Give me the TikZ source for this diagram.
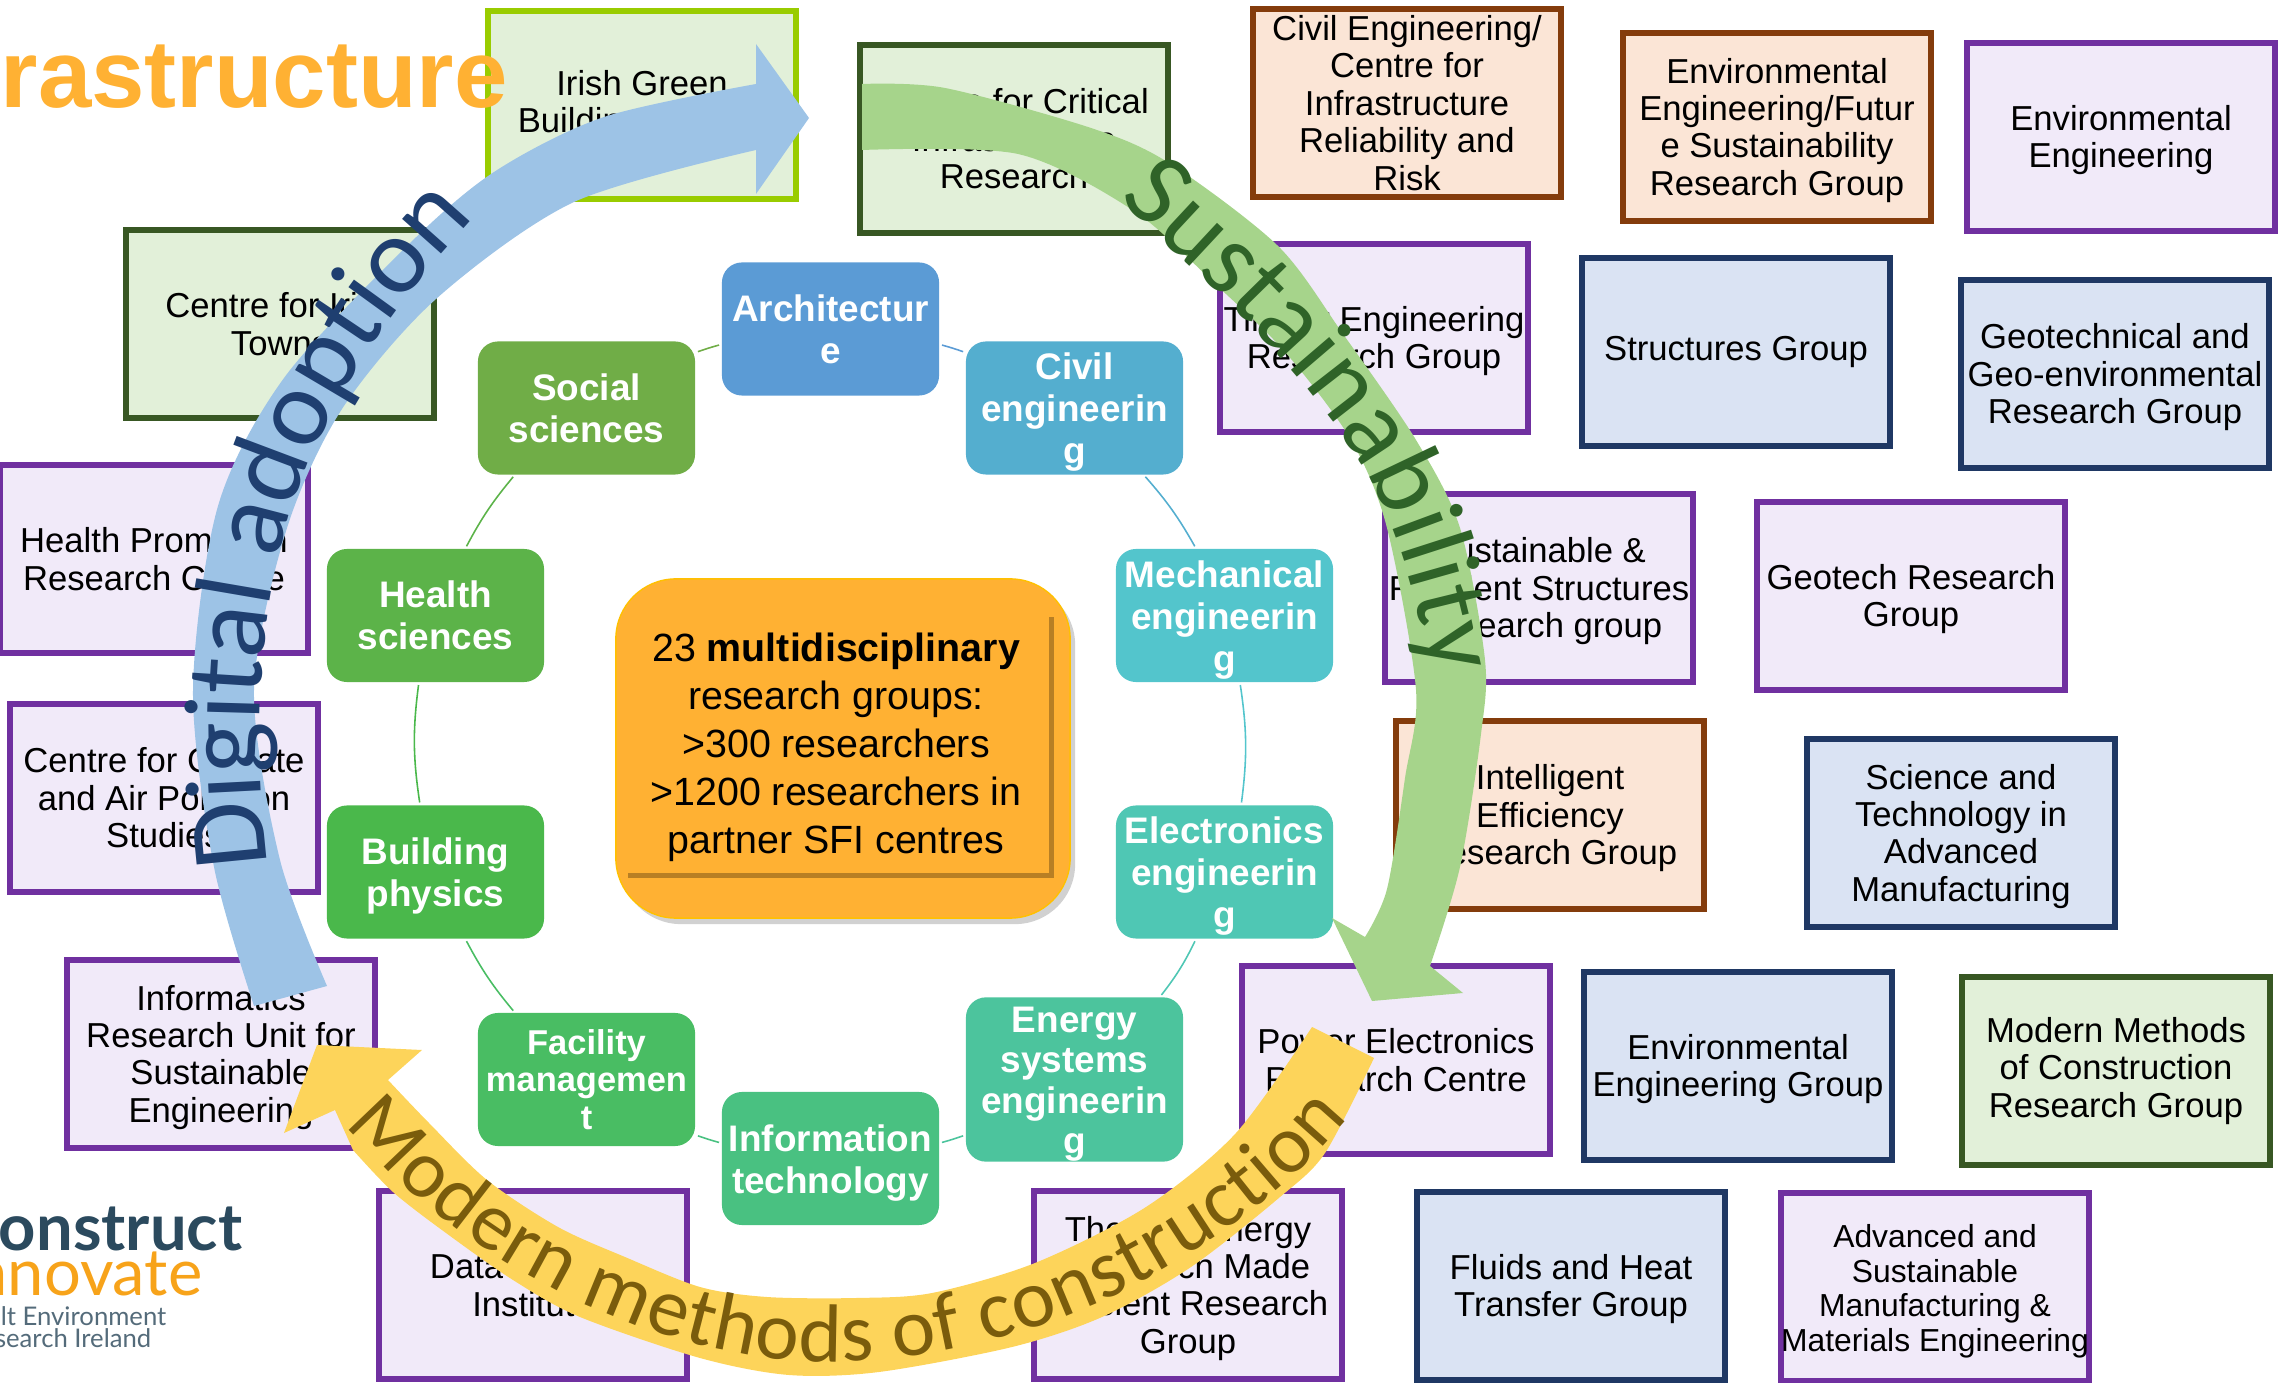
\documentclass[tikz,border=0pt]{standalone}
\usepackage{fontspec}
\setmainfont{Liberation Sans}
\newfontfamily\arrowfont{Carlito}
\newfontfamily\logofont{Lato}
\usetikzlibrary{decorations.text,shadows}

\newcommand{\lowg}{\rule{0pt}{9pt}}
\newcommand{\lowr}{\rule{0pt}{10pt}}

\definecolor{archcol}{HTML}{5B9BD5}
\definecolor{civilcol}{HTML}{54AECF}
\definecolor{mechcol}{HTML}{53C5CC}
\definecolor{eleccol}{HTML}{4FC7B4}
\definecolor{energycol}{HTML}{4CC49D}
\definecolor{infocol}{HTML}{49C181}
\definecolor{faccol}{HTML}{49BD63}
\definecolor{buildcol}{HTML}{4AB84B}
\definecolor{healthcol}{HTML}{5CB349}
\definecolor{socialcol}{HTML}{70AD47}
\definecolor{centrecol}{HTML}{FFB133}
\definecolor{digitcol}{HTML}{9DC3E6}
\definecolor{digittxt}{HTML}{1F3F70}
\definecolor{sustcol}{HTML}{A6D48B}
\definecolor{susttxt}{HTML}{2F6328}
\definecolor{modcol}{HTML}{FDD45A}
\definecolor{modtxt}{HTML}{7A5C0C}

\tikzset{
  grpbox/.style={draw,line width=0.06cm,minimum width=3.07cm,minimum height=1.87cm,inner sep=0pt,align=center,
    font=\fontsize{9.85}{10.65}\selectfont},
  purplegrp/.style={grpbox,draw={rgb,255:red,112;green,48;blue,160},fill={rgb,255:red,241;green,234;blue,249}},
  greengrp/.style={grpbox,draw={rgb,255:red,56;green,87;blue,35},fill={rgb,255:red,226;green,240;blue,217}},
  limegrp/.style={grpbox,draw={rgb,255:red,153;green,204;blue,0},fill={rgb,255:red,226;green,240;blue,217}},
  browngrp/.style={grpbox,draw={rgb,255:red,132;green,60;blue,12},fill={rgb,255:red,251;green,229;blue,214}},
  navygrp/.style={grpbox,draw={rgb,255:red,31;green,56;blue,100},fill={rgb,255:red,218;green,227;blue,243}},
  ringnode/.style={rounded corners=0.2cm,minimum width=2.17cm,minimum height=1.33cm,inner sep=0pt,outer sep=0pt,
    align=center,text=white,font=\fontsize{10.5}{11.9}\selectfont\bfseries},
  ringarc/.style={line width=0.45pt,shorten <=0.03cm,shorten >=0.03cm}
}

\begin{document}
\begin{tikzpicture}[x=0.01cm,y=-0.01cm]
  \useasboundingbox (0,0) rectangle (2279,1383);

  \node[anchor=base east,inner sep=0pt,text={rgb,255:red,43;green,74;blue,94},font=\logofont\fontsize{18.5}{18.5}\selectfont\bfseries] (logoa) at (243,1250) {onstruct};
  \node[anchor=base east,inner sep=0pt,text={rgb,255:red,247;green,163;blue,26},font=\logofont\fontsize{18.5}{18.5}\selectfont] (logob) at (203,1295) {nnovate};
  \node[anchor=base east,inner sep=0pt,text={rgb,255:red,84;green,107;blue,122},font=\logofont\fontsize{7.3}{8}\selectfont] (logoc) at (167,1325) {lt Environment};
  \node[anchor=base east,inner sep=0pt,text={rgb,255:red,84;green,107;blue,122},font=\logofont\fontsize{7.3}{8}\selectfont] (logod) at (152,1347) {search Ireland};

  \node[limegrp] (irish) at (642,105) {Irish Green\\Building Council};
  \node[greengrp] (critical) at (1014,139) {Centre for Critical\\Infrastructure\\Research};
  \node[greengrp] (towns) at (280,324) {Centre for Irish\\Towns};
  \node[purplegrp] (promo) at (154,559) {Health Promotion\\Research Centre};
  \node[purplegrp] (climate) at (164,798) {Centre for Climate\\and Air Pollution\\Studies};
  \node[purplegrp] (informatics) at (221,1054) {\lowg Informatics\\Research Unit for\\Sustainable\\Engineering};
  \node[purplegrp] (datasci) at (533,1285) {Data Science\\Institute};
  \node[purplegrp] (thermal) at (1188,1285) {\lowg Thermal Energy\\Research Made\\Efficient Research\\Group};
  \node[browngrp] (cirr) at (1407,103) {Civil Engineering/\\Centre for\\Infrastructure\\Reliability and\\Risk};
  \node[browngrp] (future) at (1777,127) {\lowg Environmental\\Engineering/Futur\\e Sustainability\\Research Group};
  \node[purplegrp] (enveng) at (2121,137) {\lowg Environmental\\Engineering};
  \node[purplegrp] (timber) at (1374,338) {\lowg Timber Engineering\\Research Group};
  \node[navygrp] (structures) at (1736,352) {Structures Group};
  \node[navygrp] (geotechnical) at (2115,374) {\lowg Geotechnical and\\Geo-environmental\\Research Group};
  \node[purplegrp] (resilient) at (1539,588) {\lowg Sustainable \&\\Resilient Structures\\Research group};
  \node[purplegrp] (geotech) at (1911,596) {\lowg Geotech Research\\Group};
  \node[browngrp] (intelligent) at (1550,815) {\lowg Intelligent\\Efficiency\\Research Group};
  \node[navygrp] (manuf) at (1961,833) {\lowg Science and\\Technology in\\Advanced\\Manufacturing};
  \node[purplegrp] (power) at (1396,1060) {Power Electronics\\Research Centre};
  \node[navygrp] (envgroup) at (1738,1066) {\lowg Environmental\\Engineering Group};
  \node[greengrp] (mmc) at (2116,1071) {Modern Methods\\of Construction\\Research Group};
  \node[navygrp] (fluids) at (1571,1286) {\lowg Fluids and Heat\\Transfer Group};
  \node[purplegrp,font=\fontsize{9.05}{9.9}\selectfont] (advanced) at (1935,1287) {\lowg Advanced and\\Sustainable\\Manufacturing \&\\Materials Engineering};

  \node[anchor=base west,inner sep=0pt,text=centrecol,font=\fontsize{27.3}{30}\selectfont\bfseries] (title) at (0,108) {rastructure};

  \node[ringnode,fill=archcol] (arch) at (830.5,329) {Architectur\\e};
  \node[ringnode,fill=civilcol] (civil) at (1074.5,408) {\lowr Civil\\engineerin\\g};
  \node[ringnode,fill=mechcol] (mech) at (1224.5,615.5) {\lowr Mechanical\\engineerin\\g};
  \node[ringnode,fill=eleccol] (elec) at (1224.5,872) {\lowr Electronics\\engineerin\\g};
  \node[ringnode,fill=energycol,font=\fontsize{10.5}{11.5}\selectfont\bfseries] (energy) at (1074.5,1079.5) {\lowr Energy\\systems\\engineerin\\g};
  \node[ringnode,fill=infocol] (info) at (830.5,1158.5) {\lowr Information\\technology};
  \node[ringnode,fill=faccol,font=\fontsize{9.8}{10.7}\selectfont\bfseries] (facility) at (586.5,1079.5) {Facility\\managemen\\t};
  \node[ringnode,fill=buildcol] (building) at (435.5,872) {\lowr Building\\physics};
  \node[ringnode,fill=healthcol] (health) at (435.5,615.5) {Health\\sciences};
  \node[ringnode,fill=socialcol] (social) at (586.5,408) {Social\\sciences};

  \path[ringarc,color=socialcol] (social.27) edge[bend left=2] (arch.188);
  \path[ringarc,color=archcol] (arch.-8) edge[bend left=2] (civil.153);
  \path[ringarc,color=civilcol] (civil.-44) edge[bend left=6] (mech.113);
  \path[ringarc,color=mechcol] (mech.-77) edge[bend left=8] (elec.76);
  \path[ringarc,color=eleccol] (elec.-113) edge[bend left=6] (energy.44);
  \path[ringarc,color=energycol] (energy.207) edge[bend left=2] (info.8);
  \path[ringarc,color=infocol] (info.172) edge[bend left=2] (facility.-27);
  \path[ringarc,color=faccol] (facility.137) edge[bend left=6] (building.-66);
  \path[ringarc,color=buildcol] (building.103) edge[bend left=8] (health.-104);
  \path[ringarc,color=healthcol] (health.66) edge[bend left=6] (social.223);

  \node[rounded corners=0.6cm,minimum width=4.54cm,minimum height=3.39cm,fill=centrecol,draw={rgb,255:red,255;green,192;blue,0},line width=0.4pt,
    drop shadow={shadow xshift=0.05cm,shadow yshift=-0.06cm,fill=black,opacity=0.18}] (outerbox) at (843,748.5) {};
  \node[minimum width=4.26cm,minimum height=2.61cm,inner sep=0pt,fill=centrecol,align=center,
    font=\fontsize{11.2}{13.6}\selectfont,
    drop shadow={shadow xshift=0.05cm,shadow yshift=-0.05cm,fill=black,opacity=0.28}] (centrebox) at (836,742.5)
    {\rule{0pt}{10.8pt}23 \textbf{multidisciplinary}\\research groups:\\>300 researchers\\>1200 researchers in\\partner SFI centres};

  \fill[digitcol] plot[smooth] coordinates {(254,1006) (214,867) (193,690) (218,506) (284,378) (407,246) (494,172) (604,117) (756,84)}
    -- (756,44) -- (809,118) -- (756,194) -- (756,150)
    -- plot[smooth] coordinates {(756,150) (574,202) (436,299) (342,409) (287,528) (254,690) (280,860) (327,986)} -- cycle;
  \fill[sustcol] plot[smooth] coordinates {(862,84) (945,88) (1091,128) (1169,163) (1278,246) (1343,334) (1416,440) (1460,528) (1485,660) (1481,734) (1460,867) (1430,966)}
    -- (1463,993) -- (1372,1001) -- (1332,918) -- (1365,937)
    -- plot[smooth] coordinates {(1365,937) (1387,889) (1405,778) (1416,690) (1387,528) (1351,440) (1285,352) (1213,282) (1134,211) (1018,154) (862,150)} -- cycle;
  \fill[modcol] plot[smooth] coordinates {(1312,1027) (1236,1133) (1146,1207) (1035,1263) (932,1293) (856,1298) (767,1297) (700,1287) (625,1257) (558,1227) (487,1180) (429,1123) (388,1080)}
    -- (422,1050) -- (317,1045) -- (284,1133) -- (335,1110)
    -- plot[smooth] coordinates {(353,1150) (393,1192) (446,1233) (513,1280) (580,1317) (700,1358) (789,1375) (879,1372) (1012,1347) (1102,1317) (1191,1267) (1280,1197) (1325,1153) (1374,1058)} -- cycle;

  \path[decorate,decoration={text along path,text color=digittxt,text align={fit to path},
    text={|\arrowfont\fontsize{31}{31}\selectfont|Digital adoption}}]
    (268,865) .. controls (254,760) and (256,640) .. (283,540) .. controls (310,430) and (380,320) .. (466,226);
  \path[decorate,decoration={text along path,text color=susttxt,text align={fit to path},
    text={|\arrowfont\fontsize{30}{30}\selectfont|Sustainability}}]
    (1118,200) .. controls (1230,300) and (1310,380) .. (1365,470) .. controls (1400,530) and (1418,605) .. (1432,676);
  \path[decorate,decoration={text along path,text color=modtxt,text align={fit to path},
    text={|\arrowfont\fontsize{23.5}{24}\selectfont|Modern methods of construction}}]
    (345,1125) .. controls (430,1225) and (560,1310) .. (700,1345) .. controls (790,1368) and (880,1370) .. (1008,1335) .. controls (1125,1305) and (1270,1215) .. (1348,1118);
\end{tikzpicture}
\end{document}
